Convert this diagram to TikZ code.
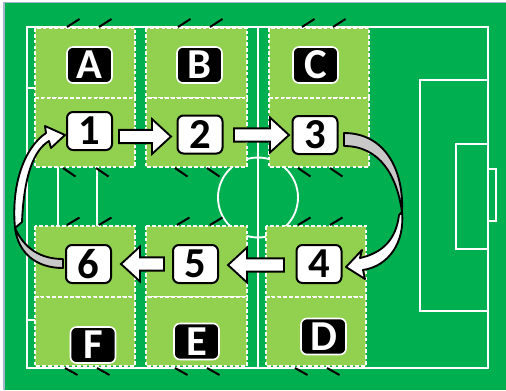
\documentclass[tikz,border=0pt]{standalone}
\usepackage{fontspec}
\setmainfont{Carlito}
\usetikzlibrary{calc}
\definecolor{pitch}{HTML}{00B050}
\definecolor{zonegreen}{HTML}{92D050}
\definecolor{framecol}{HTML}{A3B5CB}
\definecolor{backside}{HTML}{C8C8C8}
\tikzset{
 zonebox/.style={fill=zonegreen, draw=white, line width=1.4pt, dash pattern=on 2.8pt off 1.6pt},
 fieldline/.style={draw=white, line width=1.4pt},
 tickmark/.style={draw=black, line width=1.5pt},
 numbox/.style={draw=black, fill=white, line width=1.5pt, rounded corners=4.5pt, minimum width=33.75pt, minimum height=28.5pt, inner sep=0pt, font=\fontsize{32}{32}\selectfont\bfseries},
 letbox/.style={draw=white, fill=black, text=white, line width=1.2pt, rounded corners=4.5pt, minimum width=33.75pt, minimum height=27pt, inner sep=0pt, font=\fontsize{32}{32}\selectfont\bfseries},
 blockarrow/.style={draw=black, fill=white, line width=1.4pt, line join=miter},
 curvefront/.style={draw=black, fill=white, line width=1.4pt, line join=round},
 curveback/.style={draw=black, fill=backside, line width=1.4pt, line join=round},
}
% #1 start, #2 tip, #3 direction (1 right, -1 left)
\newcommand\blkarrow[3]{%
 \draw[blockarrow] let \p1=#1, \p2=#2, \p3=($(\p1)!0.5!(\p2)$) in
 (\x1,\y3+5pt) -- (\x2-#3*14.25pt,\y3+5pt) -- (\x2-#3*14.25pt,\y3+13.1pt) -- (\x2,\y3)
 -- (\x2-#3*14.25pt,\y3-13.1pt) -- (\x2-#3*14.25pt,\y3-5pt) -- (\x1,\y3-5pt) -- cycle;}
\begin{document}
\begin{tikzpicture}[x=0.75pt,y=-0.75pt]
\useasboundingbox (0,0) rectangle (506,390);
\fill[white] (0,0) rectangle (506,390);
\fill[pitch] (4.5,3) rectangle (506,390);
\draw[framecol, line width=0.8pt] (4,390) -- (4,2.5) -- (506,2.5);
% field lines
\draw[fieldline] (27,27) rectangle (488,368);
\draw[fieldline] (258,27) -- (258,368);
\draw[fieldline] (258,197.5) circle[radius=30pt];
\draw[fieldline] (420,80) rectangle (488,311);
\draw[fieldline] (456,144) rectangle (488,249);
\draw[fieldline] (488,169) rectangle (496,221);
\draw[fieldline] (27,88) rectangle (97,320);
\draw[fieldline] (35,152) -- (58,152) -- (58,257) -- (35,257);
% zones
\foreach \xa/\xb in {35/135,146/247,269/369}{
 \draw[zonebox] (\xa,28) rectangle (\xb,98);
 \draw[zonebox] (\xa,98) rectangle (\xb,167);
}
\foreach \xa/\xb in {35/135,146/247,266/366}{
 \draw[zonebox] (\xa,226) rectangle (\xb,297);
 \draw[zonebox] (\xa,297) rectangle (\xb,366);
}
% ticks
\foreach \x in {67,99,178,210,302,333} \draw[tickmark] (\x,27) -- ++(12.5,-8);
\foreach \x in {63,96,175,207,298,330} \draw[tickmark] (\x,168) -- ++(12.5,8.5);
\foreach \x in {67,99,177,210,298,330} \draw[tickmark] (\x,225) -- ++(12.5,-7.5);
\foreach \x in {65,97,175,207,295,327} \draw[tickmark] (\x,368) -- ++(12.5,7);
% letter boxes
\node[letbox] (A) at (89.5,65) {A};
\node[letbox] (B) at (199.5,65) {B};
\node[letbox] (C) at (315.5,65) {C};
\node[letbox] (F) at (93,345) {F};
\node[letbox] (E) at (196.5,341.5) {E};
\node[letbox] (D) at (323.5,336.5) {D};
% number boxes
\node[numbox] (n1) at (89.5,131) {1};
\node[numbox] (n2) at (200,134.5) {2};
\node[numbox] (n3) at (315,135) {3};
\node[numbox] (n4) at (319,264) {4};
\node[numbox] (n5) at (195.5,264) {5};
\node[numbox] (n6) at (88.5,264) {6};
% straight block arrows
\blkarrow{($(n1.east)+(6,5.5)$)}{($(n2.west)+(-5.5,2)$)}{1}
\blkarrow{($(n2.east)+(10.5,0.5)$)}{($(n3.west)+(-2.5,0)$)}{1}
\blkarrow{($(n4.west)+(-11.5,1)$)}{($(n5.east)+(9,1)$)}{-1}
\blkarrow{($(n5.west)+(-8,0)$)}{($(n6.east)+(9,0)$)}{-1}
% curved arrow 3 -> 4
\draw[curveback] (344,133) .. controls (385,133) and (404,170) .. (402,212)
  .. controls (397,176) and (380,146) .. (344,146) -- cycle;
\draw[curvefront] (399,215) .. controls (396,240) and (382,253) .. (360,258)
  -- (362,250) -- (346,267) -- (365,279) -- (363,270)
  .. controls (389,266) and (405,242) .. (402,212) -- cycle;
% curved arrow 6 -> 1
\draw[curveback] (63,268) .. controls (35,268) and (18,252) .. (15,228)
  .. controls (24,248) and (40,259) .. (63,259) -- cycle;
\draw[curvefront] (15,228) .. controls (11,185) and (24,148) .. (46,133)
  -- (45,126) -- (65,135) -- (51,148) -- (49,141)
  .. controls (34,150) and (24,175) .. (22,222) -- cycle;
\end{tikzpicture}
\end{document}
